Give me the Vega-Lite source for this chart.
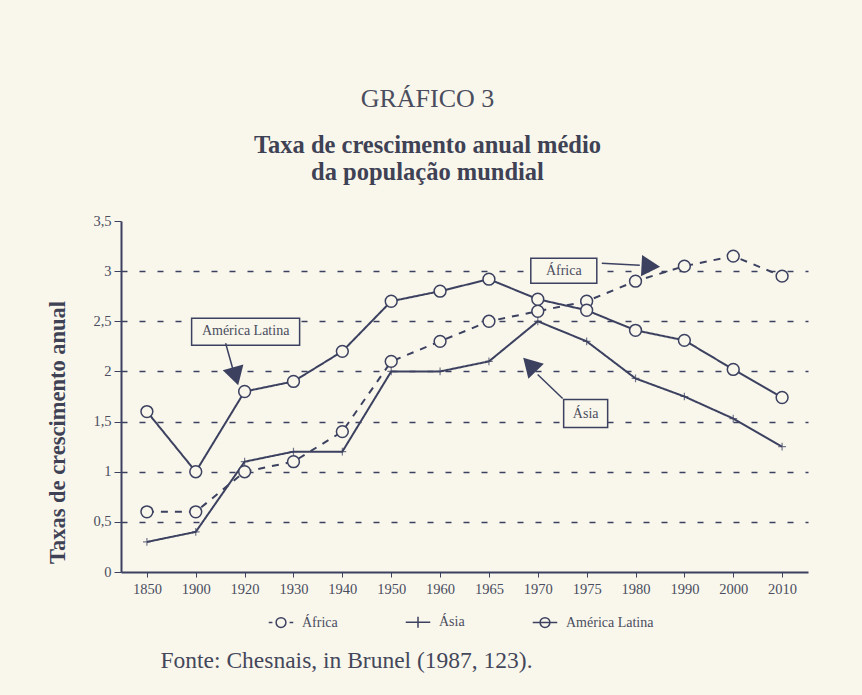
{
  "$schema": "https://vega.github.io/schema/vega-lite/v6.json",
  "width": 687,
  "height": 351,
  "autosize": {"type": "none"},
  "padding": {"left": 121, "top": 221, "right": 54, "bottom": 123},
  "background": "#f9f7ec",
  "config": {"view": {"stroke": null}, "font": "Liberation Serif"},
  "title": {
    "text": "GRÁFICO 3",
    "subtitle": ["Taxa de crescimento anual médio", "da população mundial"],
    "anchor": "middle",
    "dx": -37,
    "offset": 29,
    "font": "Liberation Serif",
    "fontSize": 26,
    "fontWeight": "normal",
    "color": "#4a4d5e",
    "subtitleFont": "Liberation Serif",
    "subtitleFontSize": 24.5,
    "subtitleFontWeight": "bold",
    "subtitleColor": "#3f4255",
    "subtitleLineHeight": 27,
    "subtitlePadding": 22
  },
  "datasets": {
    "series": [
      {"serie": "África", "ano": 1850, "taxa": 0.6},
      {"serie": "África", "ano": 1900, "taxa": 0.6},
      {"serie": "África", "ano": 1920, "taxa": 1.0},
      {"serie": "África", "ano": 1930, "taxa": 1.1},
      {"serie": "África", "ano": 1940, "taxa": 1.4},
      {"serie": "África", "ano": 1950, "taxa": 2.1},
      {"serie": "África", "ano": 1960, "taxa": 2.3},
      {"serie": "África", "ano": 1965, "taxa": 2.5},
      {"serie": "África", "ano": 1970, "taxa": 2.6},
      {"serie": "África", "ano": 1975, "taxa": 2.7},
      {"serie": "África", "ano": 1980, "taxa": 2.9},
      {"serie": "África", "ano": 1990, "taxa": 3.05},
      {"serie": "África", "ano": 2000, "taxa": 3.15},
      {"serie": "África", "ano": 2010, "taxa": 2.95},
      {"serie": "Ásia", "ano": 1850, "taxa": 0.3},
      {"serie": "Ásia", "ano": 1900, "taxa": 0.4},
      {"serie": "Ásia", "ano": 1920, "taxa": 1.1},
      {"serie": "Ásia", "ano": 1930, "taxa": 1.2},
      {"serie": "Ásia", "ano": 1940, "taxa": 1.2},
      {"serie": "Ásia", "ano": 1950, "taxa": 2.0},
      {"serie": "Ásia", "ano": 1960, "taxa": 2.0},
      {"serie": "Ásia", "ano": 1965, "taxa": 2.1},
      {"serie": "Ásia", "ano": 1970, "taxa": 2.5},
      {"serie": "Ásia", "ano": 1975, "taxa": 2.3},
      {"serie": "Ásia", "ano": 1980, "taxa": 1.93},
      {"serie": "Ásia", "ano": 1990, "taxa": 1.75},
      {"serie": "Ásia", "ano": 2000, "taxa": 1.53},
      {"serie": "Ásia", "ano": 2010, "taxa": 1.25},
      {"serie": "América Latina", "ano": 1850, "taxa": 1.6},
      {"serie": "América Latina", "ano": 1900, "taxa": 1.0},
      {"serie": "América Latina", "ano": 1920, "taxa": 1.8},
      {"serie": "América Latina", "ano": 1930, "taxa": 1.9},
      {"serie": "América Latina", "ano": 1940, "taxa": 2.2},
      {"serie": "América Latina", "ano": 1950, "taxa": 2.7},
      {"serie": "América Latina", "ano": 1960, "taxa": 2.8},
      {"serie": "América Latina", "ano": 1965, "taxa": 2.92},
      {"serie": "América Latina", "ano": 1970, "taxa": 2.72},
      {"serie": "América Latina", "ano": 1975, "taxa": 2.61},
      {"serie": "América Latina", "ano": 1980, "taxa": 2.41},
      {"serie": "América Latina", "ano": 1990, "taxa": 2.31},
      {"serie": "América Latina", "ano": 2000, "taxa": 2.02},
      {"serie": "América Latina", "ano": 2010, "taxa": 1.74}
    ]
  },
  "encoding": {
    "x": {
      "field": "ano",
      "type": "ordinal",
      "scale": {"type": "point", "padding": 0.53},
      "axis": {
        "title": "Fonte: Chesnais, in Brunel (1987, 123).",
        "labelAngle": 0,
        "labelFont": "Liberation Serif",
        "labelFontSize": 14.5,
        "labelColor": "#4a4d5e",
        "labelPadding": 5,
        "tickSize": 5,
        "tickColor": "#3c4160",
        "domainColor": "#3c4160",
        "domainWidth": 2,
        "grid": false,
        "titleFont": "Liberation Serif",
        "titleFontSize": 23.5,
        "titleFontWeight": "normal",
        "titleColor": "#44475a",
        "titleX": 39,
        "titleY": 88,
        "titleAlign": "left",
        "titleBaseline": "middle"
      }
    },
    "y": {
      "field": "taxa",
      "type": "quantitative",
      "scale": {"domain": [0, 3.5]},
      "axis": {
        "title": "Taxas de crescimento anual",
        "values": [0, 0.5, 1, 1.5, 2, 2.5, 3, 3.5],
        "labelExpr": "replace(format(datum.value, '~g'), '.', ',')",
        "labelFont": "Liberation Serif",
        "labelFontSize": 14.5,
        "labelColor": "#4a4d5e",
        "labelPadding": 3,
        "tickSize": 7,
        "tickColor": "#3c4160",
        "domainColor": "#3c4160",
        "domainWidth": 2,
        "grid": true,
        "gridDash": [6, 12],
        "gridColor": "#3c4160",
        "gridWidth": 1.6,
        "gridOpacity": {"condition": {"test": "datum.value === 0 || datum.value >= 3.5", "value": 0}, "value": 1},
        "titleFont": "Liberation Serif",
        "titleFontSize": 22.5,
        "titleFontWeight": "bold",
        "titleColor": "#3f4255",
        "titleX": -64,
        "titleY": 211,
        "titleAlign": "center",
        "titleBaseline": "middle"
      }
    }
  },
  "layer": [
    {
      "data": {"name": "series"},
      "mark": {"type": "line", "color": "#3c4160", "strokeWidth": 2},
      "encoding": {
        "detail": {"field": "serie", "type": "nominal"},
        "strokeDash": {"condition": {"test": "datum.serie === 'África'", "value": [7, 7]}, "value": [1, 0]}
      }
    },
    {
      "data": {"name": "series"},
      "transform": [{"filter": "datum.serie !== 'Ásia'"}],
      "mark": {"type": "point", "shape": "circle", "filled": false, "fill": "#f9f7ec", "stroke": "#3c4160", "strokeWidth": 1.5, "size": 140, "opacity": 1}
    },
    {
      "data": {"name": "series"},
      "transform": [{"filter": "datum.serie === 'Ásia'"}],
      "mark": {"type": "point", "shape": "M-1,0H1M0,-1V1", "filled": false, "stroke": "#3c4160", "strokeWidth": 1.2, "size": 60}
    },
    {
      "data": {"name": "series"},
      "transform": [{"filter": "false"}],
      "mark": {"type": "point", "filled": false, "stroke": "#3c4160", "strokeWidth": 1.5, "opacity": 1},
      "encoding": {
        "shape": {
          "field": "serie",
          "type": "nominal",
          "scale": {
            "domain": ["África", "Ásia", "América Latina"],
            "range": [
              "M-1,0H-0.7M-0.4,0A0.4,0.4 0 1,1 0.4,0A0.4,0.4 0 1,1 -0.4,0M0.7,0H1",
              "M-1,0H1M0,-0.45V0.45",
              "M-1,0H1M-0.4,0A0.4,0.4 0 1,1 0.4,0A0.4,0.4 0 1,1 -0.4,0"
            ]
          },
          "legend": {
            "orient": "none",
            "legendX": 147,
            "legendY": 388,
            "direction": "horizontal",
            "title": null,
            "symbolSize": 600,
            "symbolStrokeWidth": 1.5,
            "symbolStrokeColor": "#3c4160",
            "symbolFillColor": "transparent",
            "symbolOpacity": 1,
            "labelFont": "Liberation Serif",
            "labelFontSize": 14,
            "labelColor": "#4a4d5e",
            "labelOffset": 8,
            "columnPadding": 64
          }
        }
      }
    },
    {
      "data": {"values": [{"rotulo": "América Latina", "ano": 1920, "taxa": 2.4}]},
      "layer": [
        {
          "mark": {"type": "rect", "fill": "#f9f7ec", "stroke": "#3c4160", "strokeWidth": 1.5, "xOffset": -53, "x2Offset": 55, "yOffset": -13, "y2Offset": 14},
          "encoding": {"x2": {"field": "ano"}, "y2": {"field": "taxa"}}
        },
        {
          "mark": {"type": "text", "font": "Liberation Serif", "fontSize": 14, "color": "#4a4d5e", "dx": 1, "dy": 0},
          "encoding": {"text": {"field": "rotulo"}}
        },
        {
          "mark": {"type": "rule", "stroke": "#3c4160", "strokeWidth": 1.5, "xOffset": -19, "x2Offset": -12, "yOffset": 12, "y2Offset": 37},
          "encoding": {"x2": {"field": "ano"}, "y2": {"field": "taxa"}}
        },
        {
          "mark": {"type": "point", "shape": "triangle-right", "filled": true, "color": "#3c4160", "opacity": 1, "size": 460, "angle": 74, "xOffset": -9, "yOffset": 45}
        }
      ]
    },
    {
      "data": {"values": [{"rotulo": "África", "ano": 1970, "taxa": 3.0}]},
      "layer": [
        {
          "mark": {"type": "rect", "fill": "#f9f7ec", "stroke": "#3c4160", "strokeWidth": 1.5, "xOffset": -7, "x2Offset": 59, "yOffset": -13, "y2Offset": 12},
          "encoding": {"x2": {"field": "ano"}, "y2": {"field": "taxa"}}
        },
        {
          "mark": {"type": "text", "font": "Liberation Serif", "fontSize": 14, "color": "#4a4d5e", "dx": 26, "dy": 0},
          "encoding": {"text": {"field": "rotulo"}}
        },
        {
          "mark": {"type": "rule", "stroke": "#3c4160", "strokeWidth": 1.5, "xOffset": 64, "x2Offset": 102, "yOffset": -8, "y2Offset": -6},
          "encoding": {"x2": {"field": "ano"}, "y2": {"field": "taxa"}}
        },
        {
          "mark": {"type": "point", "shape": "triangle-right", "filled": true, "color": "#3c4160", "opacity": 1, "size": 460, "angle": 3, "xOffset": 113, "yOffset": -5}
        }
      ]
    },
    {
      "data": {"values": [{"rotulo": "Ásia", "ano": 1975, "taxa": 1.6}]},
      "layer": [
        {
          "mark": {"type": "rect", "fill": "#f9f7ec", "stroke": "#3c4160", "strokeWidth": 1.5, "xOffset": -23, "x2Offset": 21, "yOffset": -12, "y2Offset": 16},
          "encoding": {"x2": {"field": "ano"}, "y2": {"field": "taxa"}}
        },
        {
          "mark": {"type": "text", "font": "Liberation Serif", "fontSize": 14, "color": "#4a4d5e", "dx": -1, "dy": 2},
          "encoding": {"text": {"field": "rotulo"}}
        },
        {
          "mark": {"type": "rule", "stroke": "#3c4160", "strokeWidth": 1.5, "xOffset": -24, "x2Offset": -49, "yOffset": -13, "y2Offset": -37},
          "encoding": {"x2": {"field": "ano"}, "y2": {"field": "taxa"}}
        },
        {
          "mark": {"type": "point", "shape": "triangle-right", "filled": true, "color": "#3c4160", "opacity": 1, "size": 460, "angle": 226, "xOffset": -57, "yOffset": -47}
        }
      ]
    }
  ]
}
